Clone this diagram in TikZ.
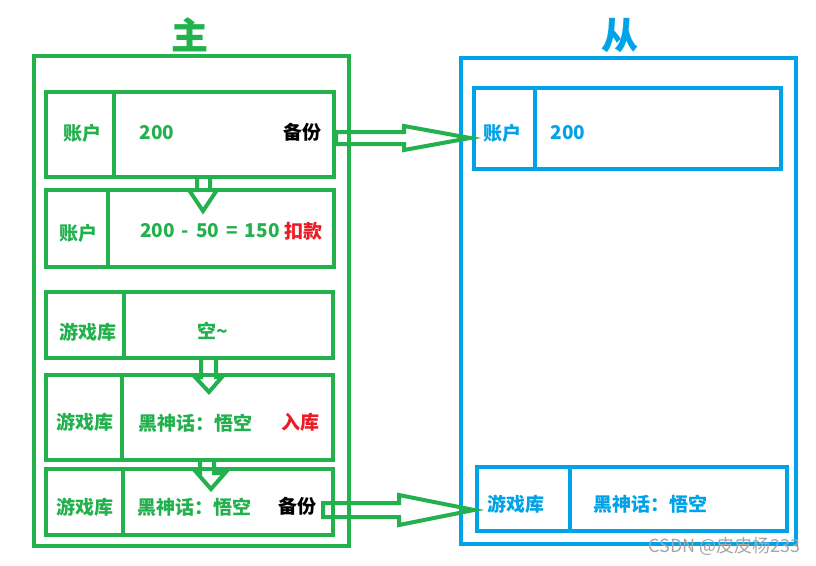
\documentclass[tikz,border=0pt]{standalone}
\usepackage{fontspec}
\setmainfont{Noto Sans CJK SC}
\begin{document}
\begin{tikzpicture}[x=1pt,y=-1pt,
  gline/.style={draw=gr,line width=4pt},
  bline/.style={draw=bl,line width=4pt},
  garrow/.style={draw=gr,line width=4pt,line join=miter},
  lbl/.style={font=\bfseries\fontsize{19}{19}\selectfont,inner sep=0pt},
  glbl/.style={lbl,text=gr},
  blbl/.style={lbl,text=bl},
  rlbl/.style={lbl,text=rd},
  klbl/.style={lbl,text=black},
]
\definecolor{gr}{HTML}{22B14C}
\definecolor{bl}{HTML}{00A2E8}
\definecolor{rd}{HTML}{ED1C24}
\useasboundingbox[fill=white] (0,0) rectangle (816,565);

% titles
\node[font=\bfseries\fontsize{37}{37}\selectfont,text=gr,inner sep=0pt] (tmain) at (190,35) {主};
\node[font=\bfseries\fontsize{37}{37}\selectfont,text=bl,inner sep=0pt] (tslave) at (620,35) {从};

% outer boxes
\draw[gline] (34,56) rectangle (349,546);
\draw[bline] (461,58) rectangle (796,544);

% green inner boxes
\draw[gline] (46,92) rectangle (334,177); \draw[gline] (114,92) -- (114,177);
\draw[gline] (46,190) rectangle (334,267); \draw[gline] (108,190) -- (108,267);
\draw[gline] (46,292) rectangle (333,358); \draw[gline] (124,292) -- (124,358);
\draw[gline] (46,375) rectangle (333,460); \draw[gline] (122,375) -- (122,460);
\draw[gline] (46,469) rectangle (333,535); \draw[gline] (123,469) -- (123,535);

% blue inner boxes
\draw[bline] (474,88) rectangle (781,169); \draw[bline] (535,88) -- (535,169);
\draw[bline] (477,467) rectangle (787,531); \draw[bline] (570,467) -- (570,531);

% green labels
\node[glbl] (g1a) at (82,133) {账户};
\node[glbl] (g1b) at (157,133) {200};
\node[klbl] (g1c) at (302,132) {备份};
\node[glbl] (g2a) at (78,233) {账户};
\node[glbl] (g2b) at (210,231) {200\hspace{7pt}-\hspace{7pt}50\hspace{7pt}=\hspace{7pt}150};
\node[rlbl] (g2c) at (303,231) {扣款};
\node[glbl] (g3a) at (88,332) {游戏库};
\node[glbl] (g3b) at (213,331) {空\textasciitilde};
\node[glbl] (g4a) at (85,422) {游戏库};
\node[glbl] (g4b) at (195,423) {黑神话：悟空};
\node[rlbl] (g4c) at (300,422) {入库};
\node[glbl] (g5a) at (85,507) {游戏库};
\node[glbl] (g5b) at (194,507) {黑神话：悟空};
\node[klbl] (g5c) at (297,506) {备份};

% blue labels
\node[blbl] (b1a) at (502,133) {账户};
\node[blbl] (b1b) at (568,133) {200};
\node[blbl] (b2a) at (516,504) {游戏库};
\node[blbl] (b2b) at (650,504) {黑神话：悟空};

% down arrows
\draw[garrow] (197,177) -- (197,190) -- (189,190) -- (203,211) -- (217,190) -- (210,190) -- (210,177);
\draw[garrow] (201,356) -- (201,377) -- (195,377) -- (209,392) -- (222,377) -- (216,377) -- (216,356);
\draw[garrow] (200,461) -- (200,473) -- (197,473) -- (211,489) -- (225,473) -- (214,473) -- (214,461);

% right arrows
\coordinate (tip1) at (470,138);
\draw[garrow] (336,132) -- (404,132) -- (404,126) -- (tip1) -- (404,150) -- (404,144) -- (336,144) -- cycle;
\coordinate (tip2) at (474,510);
\draw[garrow] (323,503) -- (399,503) -- (399,495) -- (tip2) -- (399,525) -- (399,517) -- (323,517) -- cycle;

% watermark
\node[font=\fontsize{18}{18}\selectfont,text=black!35,inner sep=0pt,anchor=east] (wm) at (801,546) {CSDN @皮皮杨233};
\end{tikzpicture}
\end{document}
